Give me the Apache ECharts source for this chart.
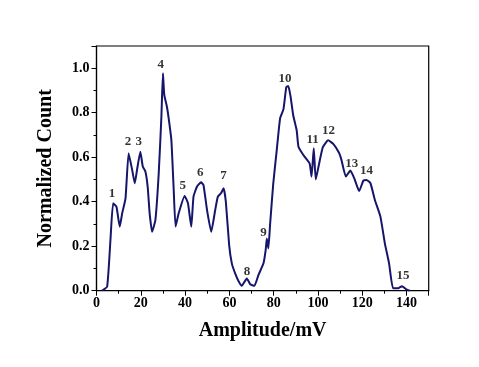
<!DOCTYPE html>
<html><head><meta charset="utf-8">
<script src="https://cdn.jsdelivr.net/npm/echarts@6/dist/echarts.min.js"></script>
<style>html,body{margin:0;padding:0;background:#fff}#c{width:479px;height:367px}</style>
</head><body><div id="c"></div>
<script>
// Amplitude (mV)
var amplitude = [2.5,4.8,6.3,7.5,9,10.5,11.6,13.1,14.5,16.1,17.3,18.3,19.8,20.9,22.1,23.1,24,25.1,26.6,28.1,29.3,30,30.6,31.8,32.7,33.8,34.8,35.7,37.1,39.8,41.3,42.8,43.8,45.4,47.2,48.3,49.9,51.8,53.6,54.8,56.2,57.4,58.4,59.9,61.1,62.6,64.1,65.6,67.9,69.4,71.3,73.1,75.4,76.4,76.9,77.6,78.4,79.8,81.4,82.9,84.4,85.7,86.6,87.6,88.8,90.4,91.2,93.4,96.2,97.1,98.1,99,100.4,102.2,104.6,106.9,109.5,110.6,112.6,114.6,116.4,118.6,120.5,121.9,123.7,125.7,128.2,130.2,132.1,133.9,136.2,137.9,139.9,141.4];
// Normalized count
var counts = [0,0.018,0.228,0.393,0.378,0.288,0.348,0.415,0.618,0.543,0.483,0.543,0.625,0.558,0.535,0.468,0.348,0.265,0.318,0.528,0.782,0.977,0.88,0.827,0.767,0.678,0.468,0.288,0.348,0.426,0.393,0.288,0.423,0.468,0.487,0.475,0.363,0.265,0.363,0.423,0.438,0.46,0.40,0.205,0.123,0.078,0.044,0.022,0.055,0.029,0.022,0.07,0.123,0.183,0.235,0.19,0.3,0.48,0.633,0.775,0.815,0.915,0.92,0.875,0.79,0.72,0.647,0.61,0.573,0.513,0.64,0.5,0.565,0.645,0.676,0.66,0.62,0.588,0.513,0.54,0.505,0.448,0.495,0.498,0.483,0.408,0.333,0.213,0.123,0.011,0.011,0.02,0.006,0];
// Peak labels
var peakNames = ['1','2','3','4','5','6','7','8','9','10','11','12','13','14','15'];
var peakX = [7.0,14.2,19.1,29.0,38.9,46.9,57.4,67.9,75.4,85.1,97.6,104.8,115.2,121.9,138.4];
var peakY = [0.438,0.671,0.671,1.015,0.472,0.532,0.516,0.086,0.261,0.952,0.681,0.718,0.573,0.540,0.066];
var xTicks = [0,20,40,60,80,100,120,140];
var yTicks = ['0.0','0.2','0.4','0.6','0.8','1.0'];

var curve = amplitude.map(function(a,i){return [a,counts[i]];});
var labels = peakNames.map(function(n,i){return {value:[peakX[i],peakY[i]],name:n};});
var FONT = '"Liberation Serif","Times New Roman",serif';

var chart = echarts.init(document.getElementById('c'), null, {renderer:'canvas'});
chart.setOption({
  backgroundColor:'#fff',
  animation:false,
  grid:{left:96.5,right:50.3,top:46,bottom:76.3,show:true,borderColor:'#000',borderWidth:1.2,backgroundColor:'transparent'},
  xAxis:{
    type:'value',min:0,max:150,interval:20,
    name:'Amplitude/mV',nameLocation:'middle',nameGap:30,
    nameTextStyle:{fontFamily:FONT,fontWeight:'bold',fontSize:20,color:'#000'},
    axisLine:{show:true,lineStyle:{color:'#000',width:1.2}},
    axisTick:{show:true,inside:false,length:5,lineStyle:{color:'#000',width:1}},
    minorTick:{show:true,splitNumber:2,length:3,lineStyle:{color:'#000',width:1}},
    splitLine:{show:false},
    axisLabel:{showMaxLabel:false,margin:6,fontFamily:FONT,fontWeight:'bold',fontSize:14,color:'#000',
      formatter:function(v){return xTicks.indexOf(v)>=0?String(v):'';}}
  },
  yAxis:{
    type:'value',min:0,max:1.1,interval:0.2,
    name:'Normalized Count',nameLocation:'middle',nameGap:41,
    nameTextStyle:{fontFamily:FONT,fontWeight:'bold',fontSize:20,color:'#000'},
    axisLine:{show:true,lineStyle:{color:'#000',width:1.2}},
    axisTick:{show:true,inside:false,length:5,lineStyle:{color:'#000',width:1}},
    minorTick:{show:true,splitNumber:2,length:3,lineStyle:{color:'#000',width:1}},
    splitLine:{show:false},
    axisLabel:{showMaxLabel:false,margin:7,fontFamily:FONT,fontWeight:'bold',fontSize:14,color:'#000',
      formatter:function(v){var s=v.toFixed(1);return yTicks.indexOf(s)>=0?s:'';}}
  },
  series:[
    {type:'line',data:curve,showSymbol:false,smooth:0.15,lineStyle:{color:'#15156b',width:2},z:3},
    {type:'scatter',data:labels,symbolSize:0,silent:true,
      label:{show:true,position:'inside',formatter:'{b}',fontFamily:FONT,fontWeight:'bold',fontSize:13,color:'#000'},z:4}
  ]
});
</script></body></html>
